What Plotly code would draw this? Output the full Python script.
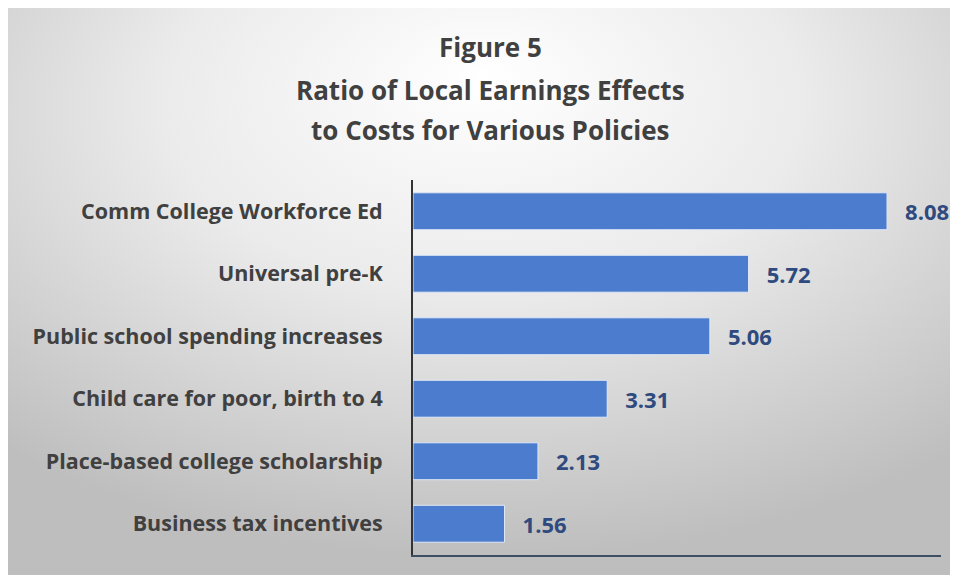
import base64
import plotly.graph_objects as go

categories = [
    "Comm College Workforce Ed",
    "Universal pre-K",
    "Public school spending increases",
    "Child care for poor, birth to 4",
    "Place-based college scholarship",
    "Business tax incentives",
]
values = [8.08, 5.72, 5.06, 3.31, 2.13, 1.56]
title_lines = ["Figure 5", "Ratio of Local Earnings Effects", "to Costs for Various Policies"]

FONT = "Open Sans"

W, H = 950, 567
L, T = 405, 172
pw, ph = 528, 375
R, B = W - L - pw, H - T - ph

svg = f"""<svg xmlns='http://www.w3.org/2000/svg' width='{W}' height='{H}' preserveAspectRatio='none'>
<defs><radialGradient id='g' cx='50%' cy='22%' r='75%' fx='50%' fy='12%'>
<stop offset='0' stop-color='#ffffff'/>
<stop offset='0.45' stop-color='#ebebeb'/>
<stop offset='1' stop-color='#bebebe'/>
</radialGradient></defs>
<rect width='{W}' height='{H}' fill='url(#g)'/>
</svg>"""
bg_uri = "data:image/svg+xml;base64," + base64.b64encode(svg.encode()).decode()

fig = go.Figure(
    go.Bar(
        x=values,
        y=categories,
        orientation="h",
        marker=dict(color="#4C7CCD", line=dict(color="#dfe8f6", width=1)),
        text=["\u00a0\u00a0\u2009" + f"{v:.2f}" for v in values],
        textposition="outside",
        textfont=dict(family=FONT, size=22, color="#2F4A7E", weight="bold"),
        cliponaxis=False,
    )
)

title_y_px = [39, 82, 122]
annotations = [
    dict(
        text=line,
        xref="paper",
        yref="paper",
        x=(482 - L) / pw,
        y=(T + ph - ypx) / ph,
        xanchor="center",
        yanchor="middle",
        showarrow=False,
        font=dict(family=FONT, size=26, color="#404040", weight="bold"),
    )
    for line, ypx in zip(title_lines, title_y_px)
]

fig.update_layout(
    width=W,
    height=H,
    margin=dict(l=L, r=R, t=T, b=B),
    paper_bgcolor="#c8c8c8",
    plot_bgcolor="rgba(0,0,0,0)",
    bargap=0.41,
    showlegend=False,
    annotations=annotations,
    images=[
        dict(
            source=bg_uri,
            xref="paper",
            yref="paper",
            x=-L / pw,
            y=(T + ph) / ph,
            sizex=W / pw,
            sizey=H / ph,
            sizing="stretch",
            xanchor="left",
            yanchor="top",
            layer="below",
        )
    ],
    xaxis=dict(
        range=[0, 9],
        showgrid=False,
        zeroline=False,
        showticklabels=False,
        showline=True,
        linecolor="#3E4E63",
        linewidth=2,
        ticks="",
        fixedrange=True,
    ),
    yaxis=dict(
        autorange="reversed",
        showgrid=False,
        zeroline=False,
        showline=True,
        linecolor="#333333",
        linewidth=2,
        ticks="",
        ticklabelstandoff=24,
        tickfont=dict(family=FONT, size=21.5, color="#404040", weight="bold"),
        fixedrange=True,
    ),
)

fig.write_html("out.html")
